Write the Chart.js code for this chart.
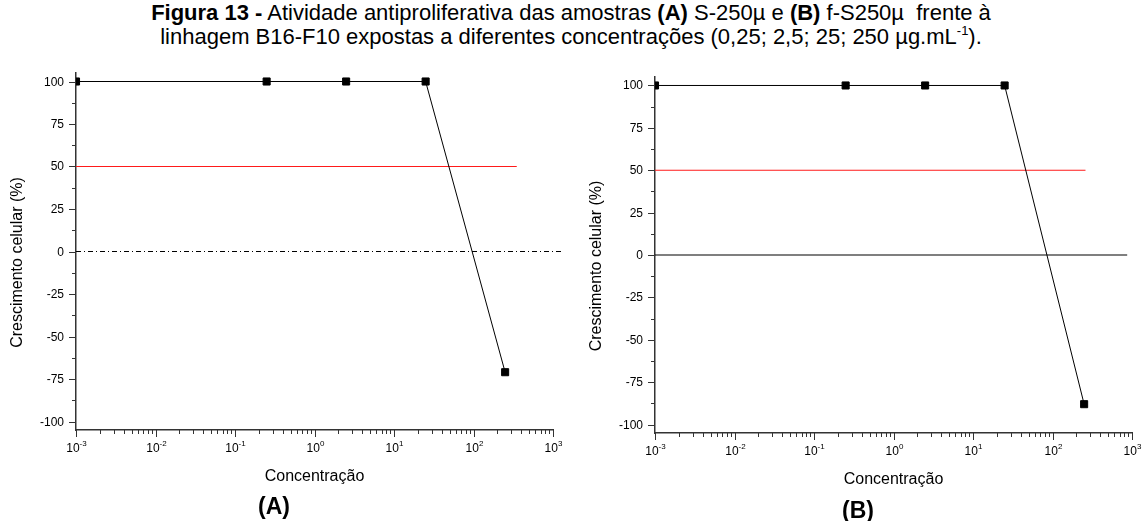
<!DOCTYPE html>
<html lang="pt">
<head>
<meta charset="utf-8">
<script src="https://cdn.jsdelivr.net/npm/chart.js@4/dist/chart.umd.min.js"></script>
<style>
  html, body { margin: 0; padding: 0; background: #fff; }
  body { width: 1142px; height: 521px; position: relative; overflow: hidden; font-family: Arial, "Liberation Sans", sans-serif; color: #000; }
  #titulo { position: absolute; left: 0; top: 1px; width: 1142px; text-align: center; font-size: 22px; line-height: 24px; }
  #titulo sup { font-size: 13px; line-height: 0; vertical-align: 9px; }
  canvas { position: absolute; top: 60px; }
  #grafA { left: 0; }
  #grafB { left: 580px; }
  .rotulo { position: absolute; font-weight: bold; font-size: 23px; transform: translateX(-50%); line-height: 23px; }
</style>
</head>
<body>
<div id="titulo">
  <b>Figura 13 -</b> Atividade antiproliferativa das amostras <b>(A)</b> S-250µ e <b>(B)</b> f-S250µ&nbsp; frente à<br>
  linhagem B16-F10 expostas a diferentes concentrações (0,25; 2,5; 25; 250 µg.mL<sup>-1</sup>).
</div>
<canvas id="grafA" width="580" height="440"></canvas>
<canvas id="grafB" width="562" height="440"></canvas>
<div class="rotulo" style="left:274px; top:495px;">(A)</div>
<div class="rotulo" style="left:858px; top:499px;">(B)</div>
<script>
// concentrações (µg/mL); o controle fica no início do eixo, 10^-3
const concentracoes = [0.001, 0.25, 2.5, 25, 250];
const crescimentoA = [100, 100, 100, 100, -71];
const crescimentoB = [100, 100, 100, 100, -88];

// linhas de referência: 50% (vermelha) e 0%
const nivel50 = 50;
const nivelZero = 0;
const faixa50A = [0.001, 350];
const faixa50B = [0.001, 260];
const faixaZeroA = [0.001, 1300];
const faixaZeroB = [0.001, 870];

// marcas dos eixos
const yTicksMaiores = [-100, -75, -50, -25, 0, 25, 50, 75, 100];
const yTicksMenores = [-87.5, -62.5, -37.5, -12.5, 12.5, 37.5, 62.5, 87.5];
const xTicksMaiores = [1e-3, 1e-2, 1e-1, 1, 10, 100, 1000];
const xExpoentes = ['-3', '-2', '-1', '0', '1', '2', '3'];

const corEixo = '#333';
const fonte = 'Arial, "Liberation Sans", sans-serif';

function linha(ctx, x1, y1, x2, y2) {
  ctx.beginPath();
  ctx.moveTo(x1, y1);
  ctx.lineTo(x2, y2);
  ctx.stroke();
}

// desenha marcas, rótulos e títulos dos eixos no estilo do Origin
const eixosOrigin = {
  id: 'eixosOrigin',
  afterDraw(chart) {
    const ctx = chart.ctx;
    const xs = chart.scales.x, ys = chart.scales.y;
    const a = chart.chartArea;
    ctx.save();
    ctx.strokeStyle = corEixo;
    ctx.lineWidth = 1;
    ctx.fillStyle = '#000';

    // eixo y
    ctx.font = '12px ' + fonte;
    ctx.textAlign = 'right';
    ctx.textBaseline = 'middle';
    yTicksMaiores.forEach(v => {
      const py = Math.round(ys.getPixelForValue(v)) + 0.5;
      linha(ctx, a.left - 7, py, a.left, py);
      ctx.fillText(String(v), a.left - 12, py);
    });
    yTicksMenores.forEach(v => {
      const py = Math.round(ys.getPixelForValue(v)) + 0.5;
      linha(ctx, a.left - 4, py, a.left, py);
    });

    // eixo x (log)
    for (let d = -3; d < 3; d++) {
      for (let k = 2; k <= 9; k++) {
        const px = Math.round(xs.getPixelForValue(k * Math.pow(10, d))) + 0.5;
        linha(ctx, px, a.bottom, px, a.bottom + 4);
      }
    }
    xTicksMaiores.forEach((v, i) => {
      const px = Math.round(xs.getPixelForValue(v)) + 0.5;
      linha(ctx, px, a.bottom, px, a.bottom + 7);
      ctx.font = '12px ' + fonte;
      const wBase = ctx.measureText('10').width;
      ctx.font = '8px ' + fonte;
      const wExp = ctx.measureText(xExpoentes[i]).width;
      const x0 = px - (wBase + wExp) / 2;
      ctx.textAlign = 'left';
      ctx.textBaseline = 'alphabetic';
      ctx.font = '12px ' + fonte;
      ctx.fillText('10', x0, a.bottom + 22);
      ctx.font = '8px ' + fonte;
      ctx.fillText(xExpoentes[i], x0 + wBase, a.bottom + 16);
    });

    // títulos dos eixos
    ctx.font = '16px ' + fonte;
    ctx.textAlign = 'center';
    ctx.textBaseline = 'middle';
    ctx.fillText('Concentração', (a.left + a.right) / 2, a.bottom + 47);
    ctx.translate(a.left - 58, (a.top + a.bottom) / 2 + 11);
    ctx.rotate(-Math.PI / 2);
    ctx.fillText('Crescimento celular (%)', 0, 0);
    ctx.restore();
  }
};

function montarGrafico(id, valores, faixa50, faixaZero, tracoZero, caixa) {
  return new Chart(document.getElementById(id), {
    type: 'line',
    data: {
      datasets: [
        {
          data: concentracoes.map((x, i) => ({ x, y: valores[i] })),
          borderColor: '#000',
          borderWidth: 1,
          pointStyle: 'rect',
          pointRadius: 5,
          pointBackgroundColor: '#000',
          pointBorderColor: '#000',
          pointBorderWidth: 1,
          tension: 0
        },
        {
          data: faixa50.map(x => ({ x, y: nivel50 })),
          borderColor: '#ff1a1a',
          borderWidth: 1.2,
          pointRadius: 0
        },
        {
          data: faixaZero.map(x => ({ x, y: nivelZero })),
          borderColor: '#000',
          borderWidth: 1.2,
          borderDash: tracoZero,
          pointRadius: 0,
          clip: false
        }
      ]
    },
    options: {
      responsive: false,
      animation: false,
      layout: { padding: { left: 0, top: caixa.top, right: caixa.right, bottom: 0 } },
      plugins: { legend: { display: false }, tooltip: { enabled: false } },
      scales: {
        x: {
          type: 'logarithmic',
          min: 0.001,
          max: 1000,
          grid: { display: false },
          border: { display: true, color: corEixo, width: 1.5 },
          ticks: { display: false },
          afterFit(s) { s.height = caixa.bottom; }
        },
        y: {
          min: -105,
          max: 105,
          grid: { display: false },
          border: { display: true, color: corEixo, width: 1.5 },
          ticks: { display: false },
          afterFit(s) { s.width = caixa.left; }
        }
      }
    },
    plugins: [eixosOrigin]
  });
}

montarGrafico('grafA', crescimentoA, faixa50A, faixaZeroA, [5, 3, 1, 3], { left: 76, top: 13, right: 27, bottom: 70 });
montarGrafico('grafB', crescimentoB, faixa50B, faixaZeroB, [], { left: 75, top: 17, right: 10, bottom: 67 });
</script>
</body>
</html>
